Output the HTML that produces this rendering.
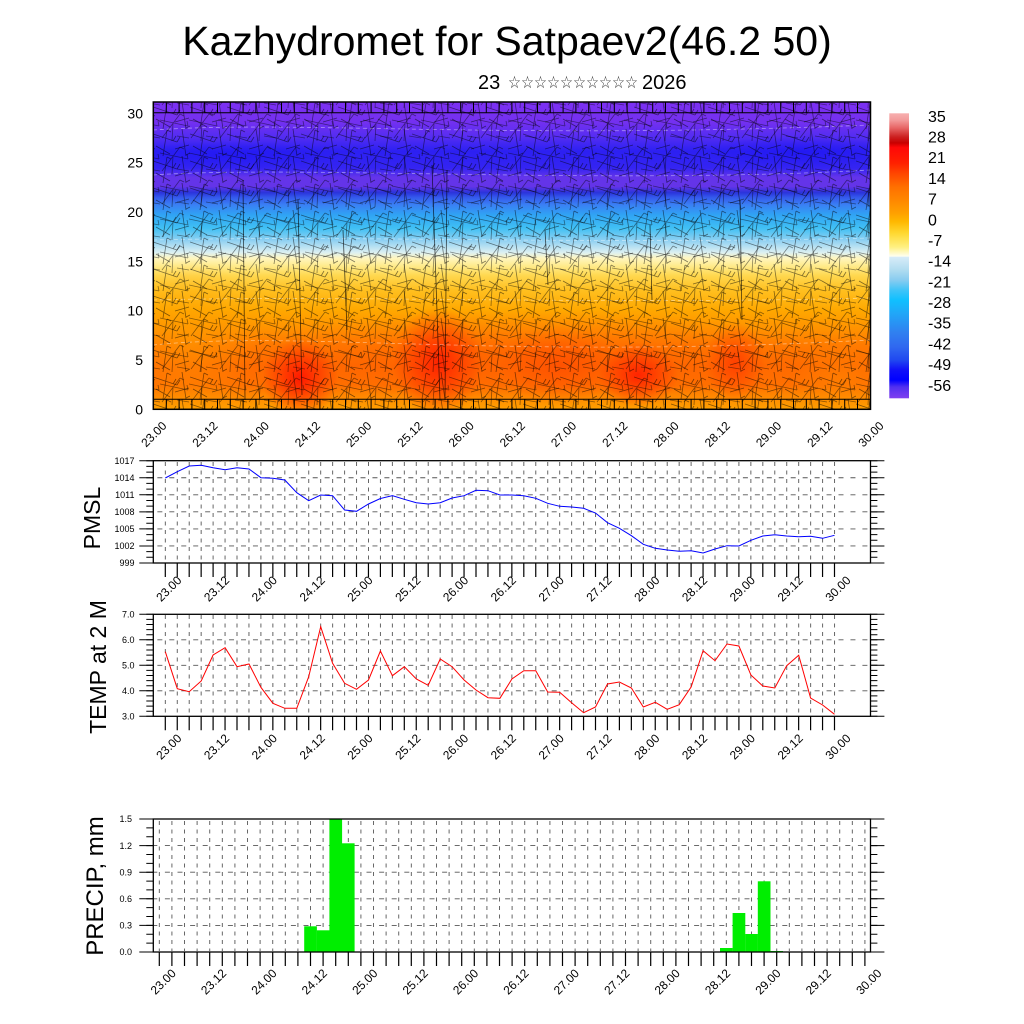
<!DOCTYPE html>
<html>
<head>
<meta charset="utf-8">
<style>
html,body{margin:0;padding:0;background:#fff;}
svg{display:block;}
</style>
</head>
<body>
<svg width="1024" height="1024" viewBox="0 0 1024 1024" xmlns="http://www.w3.org/2000/svg" font-family="'Liberation Sans', Arial, sans-serif">
<defs>
  <linearGradient id="field" x1="0" y1="0" x2="0" y2="1">
    <stop offset="0" stop-color="#7c30f2"/>
    <stop offset="0.065" stop-color="#7430f0"/>
    <stop offset="0.12" stop-color="#4e2cf2"/>
    <stop offset="0.16" stop-color="#2c20f2"/>
    <stop offset="0.215" stop-color="#3424f2"/>
    <stop offset="0.245" stop-color="#6434ea"/>
    <stop offset="0.275" stop-color="#6434e8"/>
    <stop offset="0.295" stop-color="#2a34dc"/>
    <stop offset="0.31" stop-color="#3458ec"/>
    <stop offset="0.335" stop-color="#3a80f4"/>
    <stop offset="0.368" stop-color="#30a4f4"/>
    <stop offset="0.41" stop-color="#40c0f4"/>
    <stop offset="0.45" stop-color="#8ed0f2"/>
    <stop offset="0.49" stop-color="#dcf0f2"/>
    <stop offset="0.508" stop-color="#fff6c0"/>
    <stop offset="0.531" stop-color="#ffec90"/>
    <stop offset="0.564" stop-color="#ffd850"/>
    <stop offset="0.612" stop-color="#ffc020"/>
    <stop offset="0.678" stop-color="#ffa800"/>
    <stop offset="0.743" stop-color="#ff9000"/>
    <stop offset="0.792" stop-color="#ff7a00"/>
    <stop offset="0.857" stop-color="#ff6a00"/>
    <stop offset="0.922" stop-color="#ff7000"/>
    <stop offset="0.964" stop-color="#ff8c00"/>
    <stop offset="1" stop-color="#ffa000"/>
  </linearGradient>
  <linearGradient id="cbar" x1="0" y1="0" x2="0" y2="1">
    <stop offset="0" stop-color="#f7b0b0"/>
    <stop offset="0.024" stop-color="#f39a9a"/>
    <stop offset="0.05" stop-color="#e86868"/>
    <stop offset="0.083" stop-color="#cc2020"/>
    <stop offset="0.104" stop-color="#c80000"/>
    <stop offset="0.12" stop-color="#ff0808"/>
    <stop offset="0.174" stop-color="#ff2000"/>
    <stop offset="0.21" stop-color="#ff4500"/>
    <stop offset="0.259" stop-color="#ff7000"/>
    <stop offset="0.30" stop-color="#ff8500"/>
    <stop offset="0.35" stop-color="#ffa000"/>
    <stop offset="0.38" stop-color="#ffb800"/>
    <stop offset="0.42" stop-color="#ffd830"/>
    <stop offset="0.469" stop-color="#fff080"/>
    <stop offset="0.502" stop-color="#fffff0"/>
    <stop offset="0.504" stop-color="#d8ecf8"/>
    <stop offset="0.55" stop-color="#b0dcf0"/>
    <stop offset="0.585" stop-color="#88ccf0"/>
    <stop offset="0.62" stop-color="#40c4f8"/>
    <stop offset="0.655" stop-color="#10c0ff"/>
    <stop offset="0.70" stop-color="#20a8f8"/>
    <stop offset="0.77" stop-color="#3080f0"/>
    <stop offset="0.82" stop-color="#3068f0"/>
    <stop offset="0.866" stop-color="#2048f0"/>
    <stop offset="0.90" stop-color="#1010f8"/>
    <stop offset="0.936" stop-color="#0000ff"/>
    <stop offset="0.96" stop-color="#5030f0"/>
    <stop offset="1" stop-color="#8040f0"/>
  </linearGradient>
  <radialGradient id="gRed1"><stop offset="0" stop-color="#ff1000" stop-opacity="0.9"/><stop offset="1" stop-color="#ff1000" stop-opacity="0"/></radialGradient>
  <radialGradient id="gRed2"><stop offset="0" stop-color="#ff1800" stop-opacity="0.85"/><stop offset="1" stop-color="#ff1800" stop-opacity="0"/></radialGradient>
  <radialGradient id="gRed3"><stop offset="0" stop-color="#ff3000" stop-opacity="0.7"/><stop offset="1" stop-color="#ff3000" stop-opacity="0"/></radialGradient>
  <radialGradient id="gRed4"><stop offset="0" stop-color="#ff4000" stop-opacity="0.5"/><stop offset="1" stop-color="#ff4000" stop-opacity="0"/></radialGradient>
  <radialGradient id="gRed5"><stop offset="0" stop-color="#ff5500" stop-opacity="0.45"/><stop offset="1" stop-color="#ff5500" stop-opacity="0"/></radialGradient>
  <radialGradient id="gOr1"><stop offset="0" stop-color="#ffa000" stop-opacity="0.5"/><stop offset="1" stop-color="#ffa000" stop-opacity="0"/></radialGradient>
  <radialGradient id="gOr2"><stop offset="0" stop-color="#ff9000" stop-opacity="0.4"/><stop offset="1" stop-color="#ff9000" stop-opacity="0"/></radialGradient>
  <radialGradient id="gBl1"><stop offset="0" stop-color="#1c14f4" stop-opacity="0.6"/><stop offset="1" stop-color="#1c14f4" stop-opacity="0"/></radialGradient>
  <radialGradient id="gPu1"><stop offset="0" stop-color="#6a30f0" stop-opacity="0.45"/><stop offset="1" stop-color="#6a30f0" stop-opacity="0"/></radialGradient>

  <pattern id="barbA" patternUnits="userSpaceOnUse" x="153" y="102" width="37" height="27">
    <path d="M0 5 L24 13 M24 13 L27 8 M20 12 L23 7 M29 0 L33 27 M33 26 L37 24 M3 17 L17 25 M10 27 L14 1 M14 1 L18 3 M22 20 L36 16" stroke="#000" stroke-opacity="0.5" stroke-width="0.8" fill="none"/>
  </pattern>
  <pattern id="barbB" patternUnits="userSpaceOnUse" x="160" y="108" width="29" height="33">
    <path d="M2 30 L20 6 M20 6 L24 8 M0 12 L28 18 M28 18 L27 13 M12 33 L13 15 M17 28 L29 30" stroke="#000" stroke-opacity="0.45" stroke-width="0.8" fill="none"/>
  </pattern>

  <pattern id="vgA" patternUnits="userSpaceOnUse" x="164.85" y="462" width="11.95" height="8.5">
    <rect x="0" y="0" width="0.9" height="4" fill="#555"/>
  </pattern>
  <pattern id="vgB" patternUnits="userSpaceOnUse" x="158.85" y="821" width="12.6" height="8.5">
    <rect x="0" y="0" width="0.9" height="4" fill="#555"/>
  </pattern>

  <clipPath id="mainClip"><rect x="153.3" y="102" width="717.2" height="307.3"/></clipPath>
</defs>

<rect x="0" y="0" width="1024" height="1024" fill="#fff"/>

<!-- Title -->
<text x="507" y="55" font-size="41" text-anchor="middle" fill="#000">Kazhydromet for Satpaev2(46.2 50)</text>
<text x="478" y="89" font-size="20" fill="#000">23</text>
<text x="508" y="88" font-size="17" font-family="'DejaVu Sans', sans-serif" textLength="130" lengthAdjust="spacingAndGlyphs" fill="#333">☆☆☆☆☆☆☆☆☆☆</text>
<text x="642" y="89" font-size="20" fill="#000">2026</text>

<!-- Main contour chart -->
<g clip-path="url(#mainClip)">
  <rect x="153.3" y="102" width="717.2" height="307.3" fill="url(#field)"/>
  <ellipse cx="230" cy="155" rx="110" ry="14" fill="url(#gBl1)"/>
  <ellipse cx="800" cy="152" rx="100" ry="16" fill="url(#gBl1)"/>
  <ellipse cx="500" cy="130" rx="140" ry="12" fill="url(#gPu1)"/>
  <ellipse cx="520" cy="355" rx="300" ry="45" fill="url(#gRed5)"/>
  <ellipse cx="190" cy="340" rx="70" ry="80" fill="url(#gOr1)"/>
  <ellipse cx="840" cy="380" rx="50" ry="40" fill="url(#gOr2)"/>
  <ellipse cx="560" cy="365" rx="60" ry="40" fill="url(#gRed4)"/>
  <ellipse cx="300" cy="378" rx="38" ry="40" fill="url(#gRed1)"/>
  <ellipse cx="438" cy="362" rx="45" ry="55" fill="url(#gRed2)"/>
  <ellipse cx="638" cy="375" rx="40" ry="32" fill="url(#gRed2)"/>
  <ellipse cx="735" cy="362" rx="30" ry="40" fill="url(#gRed3)"/>
  <!-- white contour lines -->
  <g fill="none" stroke="#fff" stroke-opacity="0.45" stroke-width="0.8" stroke-dasharray="4 3">
    <path d="M153 130 C300 120 500 140 870 125"/>
    <path d="M153 175 C300 165 600 185 870 170"/>
    <path d="M153 240 C350 235 600 245 870 238"/>
    <path d="M153 300 C350 295 600 305 870 298"/>
    <path d="M153 345 C300 330 500 360 870 340"/>
  </g>
  <!-- wind barbs texture -->
  <rect x="153.3" y="102" width="717.2" height="307.3" fill="url(#barbA)"/>
  <rect x="153.3" y="102" width="717.2" height="307.3" fill="url(#barbB)"/>
  <g stroke="#000" stroke-width="0.8" stroke-opacity="0.7" fill="none">
    <path d="M243 180 L245 400"/>
    <path d="M298 200 L302 395"/>
    <path d="M343 230 L347 330"/>
    <path d="M432 165 L440 400"/>
    <path d="M447 170 L445 400"/>
    <path d="M545 230 L548 285"/>
    <path d="M650 225 L652 300"/>
    <path d="M740 200 L742 320"/>
  </g>
  <!-- barb rows top & bottom -->
  <line x1="153.3" y1="399.3" x2="870.5" y2="399.3" stroke="#000" stroke-width="1"/>
  <line x1="165.8" y1="404.3" x2="870" y2="404.3" stroke="#000" stroke-width="10" stroke-dasharray="1 11.8"/>
  <line x1="153.3" y1="112.7" x2="870.5" y2="112.7" stroke="#000" stroke-width="1"/>
  <line x1="165.8" y1="107.4" x2="870" y2="107.4" stroke="#000" stroke-width="10.6" stroke-dasharray="1 11.8"/>
</g>
<rect x="153.3" y="102" width="717.2" height="307.3" fill="none" stroke="#000" stroke-width="1.5"/>

<!-- main y labels -->
<g font-size="14" text-anchor="end" fill="#000">
  <text x="143" y="414.3">0</text>
  <text x="143" y="365">5</text>
  <text x="143" y="315.6">10</text>
  <text x="143" y="266.3">15</text>
  <text x="143" y="217">20</text>
  <text x="143" y="167.6">25</text>
  <text x="143" y="118.3">30</text>
</g>
<!-- main x labels -->
<g font-size="12" text-anchor="end" fill="#000">
  <text transform="translate(167.3,426.5) rotate(-45)">23.00</text>
  <text transform="translate(218.5,426.5) rotate(-45)">23.12</text>
  <text transform="translate(269.8,426.5) rotate(-45)">24.00</text>
  <text transform="translate(321,426.5) rotate(-45)">24.12</text>
  <text transform="translate(372.2,426.5) rotate(-45)">25.00</text>
  <text transform="translate(423.5,426.5) rotate(-45)">25.12</text>
  <text transform="translate(474.7,426.5) rotate(-45)">26.00</text>
  <text transform="translate(525.9,426.5) rotate(-45)">26.12</text>
  <text transform="translate(577.1,426.5) rotate(-45)">27.00</text>
  <text transform="translate(628.4,426.5) rotate(-45)">27.12</text>
  <text transform="translate(679.6,426.5) rotate(-45)">28.00</text>
  <text transform="translate(730.8,426.5) rotate(-45)">28.12</text>
  <text transform="translate(782.1,426.5) rotate(-45)">29.00</text>
  <text transform="translate(833.3,426.5) rotate(-45)">29.12</text>
  <text transform="translate(884.5,426.5) rotate(-45)">30.00</text>
</g>

<!-- colorbar -->
<rect x="889.3" y="113.3" width="19.7" height="285" fill="url(#cbar)"/>
<g font-size="16" fill="#000">
  <text x="928" y="121.8">35</text>
  <text x="928" y="142.5">28</text>
  <text x="928" y="163.2">21</text>
  <text x="928" y="183.9">14</text>
  <text x="928" y="204.6">7</text>
  <text x="928" y="225.3">0</text>
  <text x="928" y="245.9">-7</text>
  <text x="928" y="266.6">-14</text>
  <text x="928" y="287.3">-21</text>
  <text x="928" y="308">-28</text>
  <text x="928" y="328.7">-35</text>
  <text x="928" y="349.4">-42</text>
  <text x="928" y="370.1">-49</text>
  <text x="928" y="390.8">-56</text>
</g>

<!-- ================= PMSL panel ================= -->
<rect x="164" y="461.5" width="672" height="101" fill="url(#vgA)"/>
<g stroke="#555" stroke-width="0.9" stroke-dasharray="5 6.95" stroke-dashoffset="7.9">
  <line x1="153.3" y1="477.75" x2="870.5" y2="477.75"/>
  <line x1="153.3" y1="494.8" x2="870.5" y2="494.8"/>
  <line x1="153.3" y1="511.85" x2="870.5" y2="511.85"/>
  <line x1="153.3" y1="528.9" x2="870.5" y2="528.9"/>
  <line x1="153.3" y1="545.95" x2="870.5" y2="545.95"/>
</g>
<polyline fill="none" stroke="#0000ff" stroke-width="1" points="165.3,478 177.3,471.7 189.2,466 201.2,465.3 213.1,467.7 225.1,469.7 237,467.7 249,469 260.9,477.7 272.9,478.3 284.8,480 296.8,492.7 308.7,500.7 320.7,495 332.6,495.7 344.6,510 356.5,511.3 368.5,504 380.4,498.5 392.4,495.7 404.3,499.3 416.3,502.7 428.2,504 440.2,502.7 452.1,498 464.1,495.7 476,490.3 488,490.7 499.9,495 511.9,495 523.8,495.7 535.8,498.3 547.7,503.3 559.7,506.3 571.6,507 583.6,508.3 595.5,513 607.5,522.7 619.4,528.3 631.4,535.7 643.3,544.3 655.3,548.3 667.2,550 679.2,551.3 691.1,550.7 703.1,553 715,549 727,545.7 738.9,546 750.9,540.3 762.8,536 774.8,534.7 786.7,536 798.7,536.7 810.6,536.3 822.6,538.3 834.5,535.3"/>
<rect x="153.3" y="460.7" width="717.2" height="102.3" fill="none" stroke="#000" stroke-width="1.3"/>
<g stroke="#000">
  <line x1="149.8" y1="460.2" x2="149.8" y2="564" stroke-width="7" stroke-dasharray="1 4.683"/>
  <line x1="146.3" y1="460.2" x2="146.3" y2="564" stroke-width="14" stroke-dasharray="1 16.05"/>
  <line x1="873.9" y1="460.2" x2="873.9" y2="564" stroke-width="7" stroke-dasharray="1 4.683"/>
  <line x1="877.4" y1="460.2" x2="877.4" y2="564" stroke-width="14" stroke-dasharray="1 16.05"/>
  <line x1="164.7" y1="570" x2="835.2" y2="570" stroke-width="14" stroke-dasharray="1.2 10.75"/>
</g>
<g font-size="9" text-anchor="end" fill="#000">
  <text x="134.5" y="463.9">1017</text>
  <text x="134.5" y="480.95">1014</text>
  <text x="134.5" y="498">1011</text>
  <text x="134.5" y="515.05">1008</text>
  <text x="134.5" y="532.1">1005</text>
  <text x="134.5" y="549.15">1002</text>
  <text x="134.5" y="566.2">999</text>
</g>
<g font-size="12" text-anchor="end" fill="#000">
  <text transform="translate(182.3,581) rotate(-45)">23.00</text>
  <text transform="translate(230.1,581) rotate(-45)">23.12</text>
  <text transform="translate(277.9,581) rotate(-45)">24.00</text>
  <text transform="translate(325.7,581) rotate(-45)">24.12</text>
  <text transform="translate(373.5,581) rotate(-45)">25.00</text>
  <text transform="translate(421.3,581) rotate(-45)">25.12</text>
  <text transform="translate(469.1,581) rotate(-45)">26.00</text>
  <text transform="translate(516.9,581) rotate(-45)">26.12</text>
  <text transform="translate(564.7,581) rotate(-45)">27.00</text>
  <text transform="translate(612.5,581) rotate(-45)">27.12</text>
  <text transform="translate(660.3,581) rotate(-45)">28.00</text>
  <text transform="translate(708.1,581) rotate(-45)">28.12</text>
  <text transform="translate(755.9,581) rotate(-45)">29.00</text>
  <text transform="translate(803.7,581) rotate(-45)">29.12</text>
  <text transform="translate(851.5,581) rotate(-45)">30.00</text>
</g>
<text transform="translate(100,518) rotate(-90)" font-size="23" text-anchor="middle" fill="#000">PMSL</text>

<!-- ================= TEMP panel ================= -->
<rect x="164" y="615" width="672" height="101" fill="url(#vgA)"/>
<g stroke="#555" stroke-width="0.9" stroke-dasharray="5 6.95" stroke-dashoffset="7.9">
  <line x1="153.3" y1="639.8" x2="870.5" y2="639.8"/>
  <line x1="153.3" y1="665.3" x2="870.5" y2="665.3"/>
  <line x1="153.3" y1="690.8" x2="870.5" y2="690.8"/>
</g>
<polyline fill="none" stroke="#ff0000" stroke-width="1" points="165.3,651.7 177.3,688.7 189.2,691.7 201.2,681 213.1,655 225.1,647.7 237,666.7 249,664 260.9,687.3 272.9,703.3 284.8,708.3 296.8,708.3 308.7,676.7 320.7,626.7 332.6,663.3 344.6,683.3 356.5,689.3 368.5,680 380.4,651 392.4,675.7 404.3,666.7 416.3,679 428.2,685.3 440.2,659 452.1,666.7 464.1,680 476,690 488,697.7 499.9,698.3 511.9,679 523.8,670.7 535.8,670.7 547.7,692 559.7,692.3 571.6,702.7 583.6,712.7 595.5,707 607.5,684 619.4,682 631.4,688 643.3,707 655.3,702.3 667.2,709.3 679.2,704.7 691.1,687 703.1,650.7 715,660.7 727,644 738.9,646 750.9,675 762.8,686 774.8,688 786.7,665.7 798.7,655.3 810.6,698 822.6,705 834.5,714.3"/>
<rect x="153.3" y="614.3" width="717.2" height="102" fill="none" stroke="#000" stroke-width="1.3"/>
<g stroke="#000">
  <line x1="149.8" y1="613.8" x2="149.8" y2="717" stroke-width="7" stroke-dasharray="1 4.1"/>
  <line x1="146.3" y1="613.8" x2="146.3" y2="717" stroke-width="14" stroke-dasharray="1 24.5"/>
  <line x1="873.9" y1="613.8" x2="873.9" y2="717" stroke-width="7" stroke-dasharray="1 4.1"/>
  <line x1="877.4" y1="613.8" x2="877.4" y2="717" stroke-width="14" stroke-dasharray="1 24.5"/>
  <line x1="164.7" y1="723.3" x2="835.2" y2="723.3" stroke-width="14" stroke-dasharray="1.2 10.75"/>
</g>
<g font-size="9" text-anchor="end" fill="#000">
  <text x="134.5" y="617.5">7.0</text>
  <text x="134.5" y="643">6.0</text>
  <text x="134.5" y="668.5">5.0</text>
  <text x="134.5" y="694">4.0</text>
  <text x="134.5" y="719.5">3.0</text>
</g>
<g font-size="12" text-anchor="end" fill="#000">
  <text transform="translate(182.3,739) rotate(-45)">23.00</text>
  <text transform="translate(230.1,739) rotate(-45)">23.12</text>
  <text transform="translate(277.9,739) rotate(-45)">24.00</text>
  <text transform="translate(325.7,739) rotate(-45)">24.12</text>
  <text transform="translate(373.5,739) rotate(-45)">25.00</text>
  <text transform="translate(421.3,739) rotate(-45)">25.12</text>
  <text transform="translate(469.1,739) rotate(-45)">26.00</text>
  <text transform="translate(516.9,739) rotate(-45)">26.12</text>
  <text transform="translate(564.7,739) rotate(-45)">27.00</text>
  <text transform="translate(612.5,739) rotate(-45)">27.12</text>
  <text transform="translate(660.3,739) rotate(-45)">28.00</text>
  <text transform="translate(708.1,739) rotate(-45)">28.12</text>
  <text transform="translate(755.9,739) rotate(-45)">29.00</text>
  <text transform="translate(803.7,739) rotate(-45)">29.12</text>
  <text transform="translate(851.5,739) rotate(-45)">30.00</text>
</g>
<text transform="translate(106,667) rotate(-90)" font-size="23" text-anchor="middle" fill="#000">TEMP at 2 M</text>

<!-- ================= PRECIP panel ================= -->
<rect x="158" y="820" width="709" height="131" fill="url(#vgB)"/>
<g stroke="#555" stroke-width="0.9" stroke-dasharray="5 7.6" stroke-dashoffset="1">
  <line x1="153.3" y1="845.6" x2="870.5" y2="845.6"/>
  <line x1="153.3" y1="872.2" x2="870.5" y2="872.2"/>
  <line x1="153.3" y1="898.8" x2="870.5" y2="898.8"/>
  <line x1="153.3" y1="925.4" x2="870.5" y2="925.4"/>
</g>
<g fill="#00ee00">
  <rect x="304.2" y="926.3" width="12.7" height="25.7"/>
  <rect x="316.8" y="930.3" width="12.7" height="21.7"/>
  <rect x="329.4" y="819" width="12.7" height="133"/>
  <rect x="342" y="843.3" width="12.6" height="108.7"/>
  <rect x="720" y="948" width="12.7" height="4"/>
  <rect x="732.6" y="913" width="12.7" height="39"/>
  <rect x="745.2" y="934" width="12.7" height="18"/>
  <rect x="757.8" y="881.3" width="12.7" height="70.7"/>
  <rect x="770.4" y="951" width="12.6" height="1"/>
</g>
<rect x="153.3" y="819" width="717.2" height="133" fill="none" stroke="#000" stroke-width="1.3"/>
<g stroke="#000">
  <line x1="149.8" y1="818.5" x2="149.8" y2="953" stroke-width="7" stroke-dasharray="1 7.867"/>
  <line x1="146.3" y1="818.5" x2="146.3" y2="953" stroke-width="14" stroke-dasharray="1 25.6"/>
  <line x1="873.9" y1="818.5" x2="873.9" y2="953" stroke-width="7" stroke-dasharray="1 7.867"/>
  <line x1="877.4" y1="818.5" x2="877.4" y2="953" stroke-width="14" stroke-dasharray="1 25.6"/>
  <line x1="158.7" y1="959" x2="865.6" y2="959" stroke-width="14" stroke-dasharray="1.2 11.4"/>
</g>
<g font-size="9" text-anchor="end" fill="#000">
  <text x="132" y="822.2">1.5</text>
  <text x="132" y="848.8">1.2</text>
  <text x="132" y="875.4">0.9</text>
  <text x="132" y="902">0.6</text>
  <text x="132" y="928.6">0.3</text>
  <text x="132" y="955.2">0.0</text>
</g>
<g font-size="12" text-anchor="end" fill="#000">
  <text transform="translate(176.7,974) rotate(-45)">23.00</text>
  <text transform="translate(227.1,974) rotate(-45)">23.12</text>
  <text transform="translate(277.5,974) rotate(-45)">24.00</text>
  <text transform="translate(327.9,974) rotate(-45)">24.12</text>
  <text transform="translate(378.3,974) rotate(-45)">25.00</text>
  <text transform="translate(428.7,974) rotate(-45)">25.12</text>
  <text transform="translate(479.1,974) rotate(-45)">26.00</text>
  <text transform="translate(529.5,974) rotate(-45)">26.12</text>
  <text transform="translate(579.9,974) rotate(-45)">27.00</text>
  <text transform="translate(630.3,974) rotate(-45)">27.12</text>
  <text transform="translate(680.7,974) rotate(-45)">28.00</text>
  <text transform="translate(731.1,974) rotate(-45)">28.12</text>
  <text transform="translate(781.5,974) rotate(-45)">29.00</text>
  <text transform="translate(831.9,974) rotate(-45)">29.12</text>
  <text transform="translate(882.3,974) rotate(-45)">30.00</text>
</g>
<text transform="translate(103,886) rotate(-90)" font-size="24" text-anchor="middle" fill="#000">PRECIP, mm</text>

</svg>
</body>
</html>
